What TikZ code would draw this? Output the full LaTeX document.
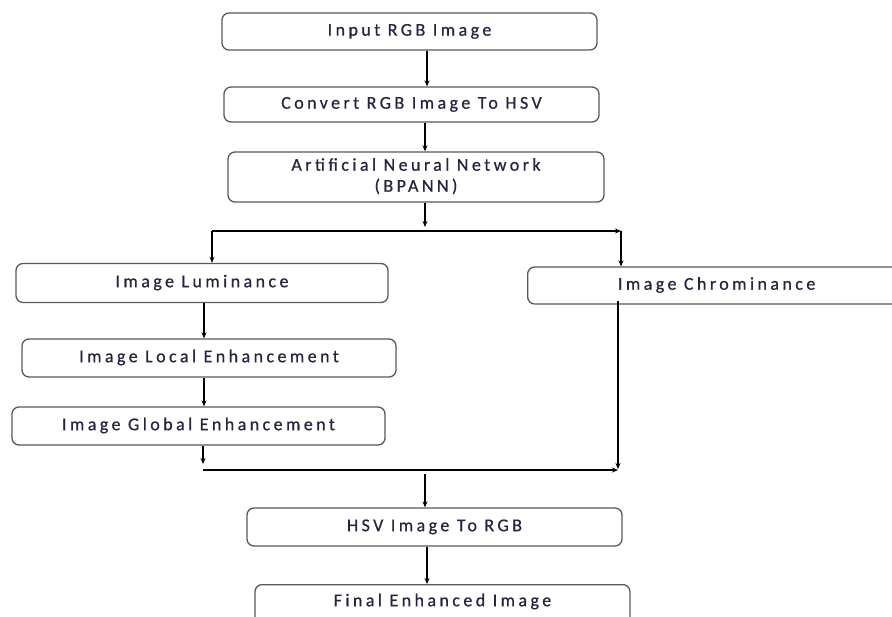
\documentclass[tikz,border=0pt]{standalone}
\usepackage{fontspec}
\setmainfont{Carlito}[LetterSpace=19,FakeBold=0.6]
\usetikzlibrary{arrows.meta}
\definecolor{boxline}{HTML}{5A5A5A}
\definecolor{txt}{HTML}{2B2240}
\begin{document}
\begin{tikzpicture}[x=1pt,y=-1pt,
  stage/.style={draw=boxline,line width=1.3pt,rounded corners=7pt,fill=white,
    font=\fontsize{18}{21}\selectfont,text=txt,align=center,inner sep=0pt},
  flow/.style={line width=1.3pt,-{Stealth[length=6pt,width=5pt]}},
  wire/.style={line width=1.3pt}]
\useasboundingbox (0,0) rectangle (892,617);
\clip (0,0) rectangle (892,617);
\fill[white] (0,0) rectangle (892,617);

% processing stages (centres and sizes in pixel units)
\node[stage,minimum width=375pt,minimum height=37pt] (input) at (409.5,31.5) {\strut Input RGB Image};
\node[stage,minimum width=375pt,minimum height=35pt] (hsv) at (411.5,104.5) {\strut Convert RGB Image To HSV};
\node[stage,minimum width=376pt,minimum height=50pt] (ann) at (416,177) {\strut Artificial Neural Network\\\strut(BPANN)};
\node[stage,minimum width=372pt,minimum height=39pt] (lum) at (202,283) {\strut Image Luminance};
\node[stage,minimum width=378pt,minimum height=37pt,anchor=west] (chrom) at (527,285.5) {\strut Image Chrominance};
\node[stage,minimum width=374pt,minimum height=38pt] (local) at (209,358) {\strut Image Local Enhancement};
\node[stage,minimum width=373pt,minimum height=38pt] (global) at (198.5,426) {\strut Image Global Enhancement};
\node[stage,minimum width=375pt,minimum height=38pt] (back) at (434.5,527) {\strut HSV Image To RGB};
\node[stage,minimum width=375pt,minimum height=60pt,anchor=north] (final) at (442.5,584) {};
\node[font=\fontsize{18}{21}\selectfont,text=txt,inner sep=0pt] (finaltxt) at (442.5,602) {\strut Final Enhanced Image};

% junction points of the split and merge lines
\coordinate (splitC) at (425,231);
\coordinate (splitL) at (212,231);
\coordinate (splitR) at (621,231);
\coordinate (mergeL) at (203,470);
\coordinate (mergeR) at (618,470);
\coordinate (mergeC) at (425,474);

% connectors
\draw[flow] (input.south -| 427,0) -- (hsv.north -| 427,0);
\draw[flow] (hsv.south -| 425,0) -- (ann.north -| 425,0);
\draw[flow] (ann.south -| splitC) -- ([yshift=4pt]splitC);
\draw[wire] (splitL) -- (splitC);
\draw[flow] (splitC) -- (splitR);
\draw[flow] (splitL) -- (lum.north -| splitL);
\draw[flow] (splitR) -- (chrom.north -| splitR);
\draw[flow] (lum.south -| 204,0) -- (local.north -| 204,0);
\draw[flow] (local.south -| 204,0) -- (global.north -| 204,0);
\draw[flow] (global.south -| mergeL) -- ([yshift=6pt]mergeL);
\draw[flow] (mergeL) -- (mergeR);
\draw[flow] ([yshift=4pt]chrom.south -| mergeR) -- ([yshift=1pt]mergeR);
\draw[flow] (mergeC) -- (back.north -| mergeC);
\draw[flow] (back.south -| 427,0) -- (final.north -| 427,0);
\end{tikzpicture}
\end{document}
